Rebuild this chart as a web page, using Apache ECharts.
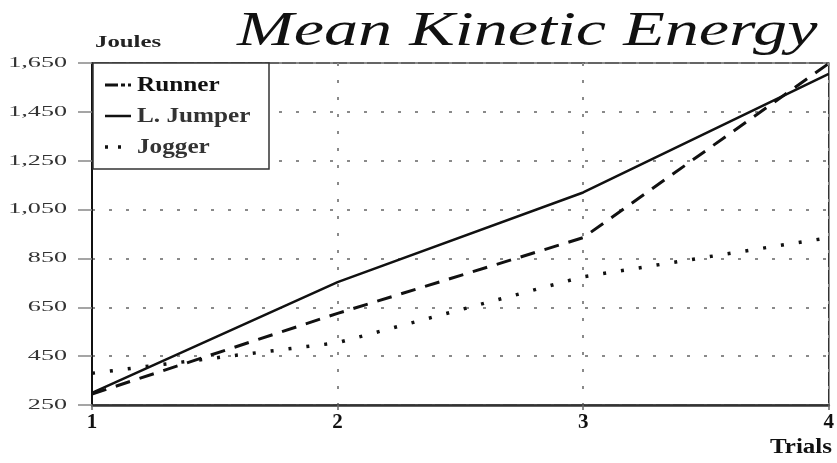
<!DOCTYPE html>
<html>
<head>
<meta charset="utf-8">
<script src="https://cdn.jsdelivr.net/npm/echarts@6/dist/echarts.min.js"></script>
<style>
  html, body { margin: 0; padding: 0; background: #fff; }
  #chart { width: 837px; height: 463px; }
</style>
</head>
<body>
<div id="chart"></div>
<script>
// Trials along the x axis
const trials = ['1', '2', '3', '4'];
// Mean kinetic energy per trial, in joules
const runner = [295, 625, 935, 1648];
const longJumper = [300, 753, 1120, 1605];
const jogger = [380, 505, 775, 935];
// Y axis range, step and tick labels
const yMin = 250;
const yMax = 1650;
const yStep = 200;
const yTicks = [250, 450, 650, 850, 1050, 1250, 1450, 1650];
const seriesNames = ['Runner', 'L. Jumper', 'Jogger'];

const serif = '"Liberation Serif", "DejaVu Serif", serif';
const ink = '#111';

const lineStyles = {
  'Runner': { color: ink, width: 3, type: [15, 10] },
  'L. Jumper': { color: ink, width: 2.5, type: 'solid' },
  'Jogger': { color: ink, width: 3.5, type: [3, 15] }
};

const chart = echarts.init(document.getElementById('chart'), null, { renderer: 'canvas' });

function makeLine(name, data) {
  return {
    name: name, type: 'line', data: data,
    symbol: 'none', showSymbol: false, smooth: false, z: 3,
    lineStyle: lineStyles[name],
    itemStyle: { color: ink }
  };
}

const gridDots = { color: '#8a8a8a', type: [3, 14], width: 2 };

chart.setOption({
  animation: false,
  backgroundColor: '#ffffff',
  grid: {
    left: 92, right: 7, top: 63, bottom: 58,
    show: true, borderColor: '#333', borderWidth: 1.5, backgroundColor: 'transparent'
  },
  xAxis: {
    type: 'category',
    data: trials,
    boundaryGap: false,
    axisLine: { lineStyle: { color: '#333', width: 2.5 } },
    axisTick: { show: true, alignWithLabel: true, length: 5, lineStyle: { color: '#666', width: 1.5 } },
    axisLabel: { fontFamily: serif, fontWeight: 'bold', fontSize: 21, color: ink, margin: 7 },
    splitLine: { show: true, lineStyle: gridDots }
  },
  yAxis: {
    type: 'value',
    min: yMin, max: yMax, interval: yStep,
    axisLine: { show: true, lineStyle: { color: ink, width: 2 } },
    axisTick: { show: true, length: 14, lineStyle: { color: '#888', width: 1.5 } },
    axisLabel: { show: false },
    splitLine: { show: true, lineStyle: gridDots }
  },
  series: [
    makeLine('Runner', runner),
    makeLine('L. Jumper', longJumper),
    makeLine('Jogger', jogger)
  ]
});

// Horizontally stretched text, as in the printed original's typeface
function wideText(text, x, y, opts) {
  return {
    type: 'text', x: x, y: y, scaleX: opts.scaleX || 1, z: 10, silent: true,
    style: {
      text: text,
      font: (opts.style || 'normal') + ' ' + (opts.weight || 'normal') + ' ' + opts.size + 'px ' + serif,
      fill: opts.fill || ink,
      align: opts.align || 'left',
      verticalAlign: 'middle'
    }
  };
}

const graphics = [];

// Title and axis names
graphics.push(wideText('Mean Kinetic Energy', 237, 32, { style: 'italic', size: 48, scaleX: 1.42 }));
graphics.push(wideText('Joules', 95, 43, { weight: 'bold', size: 16, scaleX: 1.55, fill: '#222' }));
graphics.push(wideText('Trials', 832, 448, { weight: 'bold', size: 20, scaleX: 1.25, align: 'right' }));

// Y tick labels placed through the axis scale
yTicks.forEach(function (v) {
  const py = chart.convertToPixel({ yAxisIndex: 0 }, v);
  graphics.push(wideText(v.toLocaleString('en-US'), 67, py, { size: 14.5, scaleX: 1.8, align: 'right', fill: '#333' }));
});

// Legend box with line samples
const legendRows = [85, 116, 147];
const legendChildren = [{
  type: 'rect',
  shape: { x: 93, y: 63, width: 176, height: 106 },
  style: { fill: '#ffffff', stroke: '#333', lineWidth: 1.5 },
  z: 8
}];
seriesNames.forEach(function (name, i) {
  const y = legendRows[i];
  const ls = lineStyles[name];
  legendChildren.push({
    type: 'line',
    shape: { x1: 105, y1: y, x2: 131, y2: y },
    style: {
      stroke: ls.color, lineWidth: ls.width,
      lineDash: Array.isArray(ls.type) ? (name === 'Runner' ? [13, 3, 4, 3] : [3, 10]) : null
    },
    z: 9
  });
  legendChildren.push(wideText(name, 137, y + 1, { weight: 'bold', size: 20, scaleX: 1.26, fill: i === 0 ? ink : '#333' }));
});
graphics.push({ type: 'group', children: legendChildren });

chart.setOption({ graphic: graphics });
</script>
</body>
</html>
